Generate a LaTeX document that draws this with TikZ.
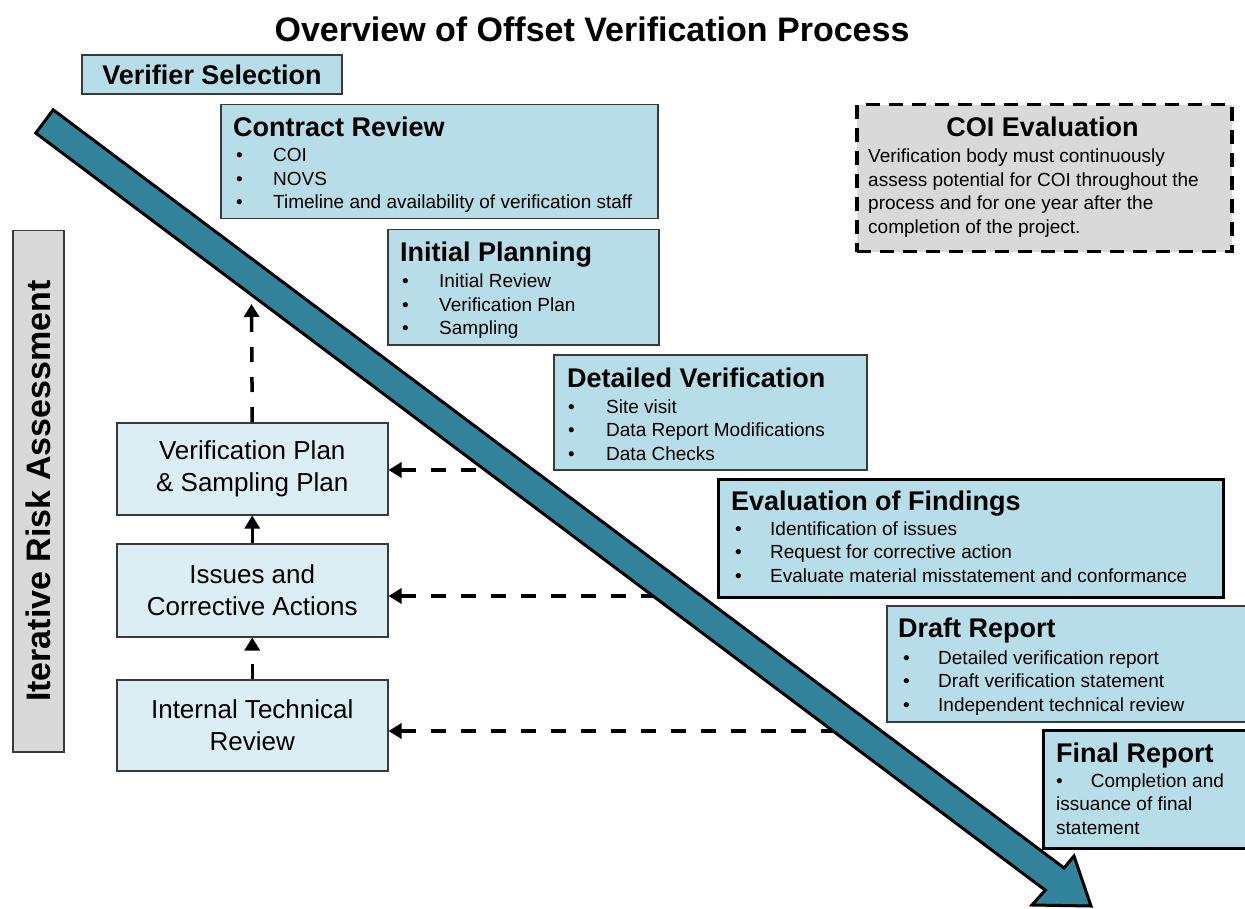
\documentclass[tikz,border=0pt]{standalone}
\usepackage{fontspec}
\setmainfont{Liberation Sans}
\usetikzlibrary{arrows.meta}
\definecolor{boxblue}{HTML}{B7DDE8}
\definecolor{lightblue}{HTML}{DBEEF4}
\definecolor{boxgray}{HTML}{D9D9D9}
\definecolor{arrowteal}{HTML}{31849B}
\definecolor{edgegray}{HTML}{3A3A3A}
\newcommand{\itemfont}{\fontsize{19}{23.5}\selectfont}
\newcommand{\headfont}{\fontsize{27}{32}\selectfont\bfseries}
\newcommand{\leftfont}{\fontsize{26}{32.5}\selectfont}
\begin{document}
\begin{tikzpicture}[x=1pt,y=-1pt,
  bluebox/.style={draw=edgegray, line width=1.5pt, fill=boxblue, inner sep=0pt, anchor=north west},
  strongbox/.style={bluebox, draw=black, line width=3pt},
  leftbox/.style={draw=edgegray, line width=1.5pt, fill=lightblue, inner sep=0pt, anchor=north west, font=\leftfont, align=center},
  graybox/.style={draw=edgegray, line width=1.5pt, fill=boxgray, inner sep=0pt, anchor=north west},
  coibox/.style={draw=black, line width=3.5pt, dash pattern=on 14pt off 9pt, fill=boxgray, inner sep=0pt, anchor=north west},
  head/.style={font=\headfont, inner sep=0pt, anchor=base west},
  items/.style={font=\itemfont, inner sep=0pt, anchor=base west},
  dashconn/.style={draw=black, line width=3.5pt, dash pattern=on 15pt off 15pt, -{Triangle[length=13pt,width=15pt]}},
  dashback/.style={draw=black, line width=3.5pt, dash pattern=on 15pt off 15pt, {Triangle[length=13pt,width=15pt]}-},
  bigarrow/.style={fill=arrowteal, draw=black, line width=3pt, line join=miter}
]
\clip (0,0) rectangle (1245,909);
\fill[white] (0,0) rectangle (1245,909);

% title
\node[font=\fontsize{34}{40}\selectfont\bfseries, inner sep=0pt, anchor=base] (title) at (592,42) {Overview of Offset Verification Process};

% verifier selection
\node[bluebox, minimum width=260pt, minimum height=39pt, font=\headfont, anchor=center] (vs) at (212,74.5) {Verifier Selection};

% contract review
\node[bluebox, minimum width=437pt, minimum height=114pt] (cr) at (220,104) {};
\node[head] (crh) at (233,137) {Contract Review};
\node[items] (crl) at (236,162) {\begin{tabular}[t]{@{}p{37pt}@{}l@{}}\textbullet & COI\\ \textbullet & NOVS\\ \textbullet & Timeline and availability of verification staff\end{tabular}};

% initial planning
\node[bluebox, minimum width=271pt, minimum height=115pt] (ip) at (387,229) {};
\node[head] (iph) at (400,262) {Initial Planning};
\node[items] (ipl) at (402,288) {\begin{tabular}[t]{@{}p{37pt}@{}l@{}}\textbullet & Initial Review\\ \textbullet & Verification Plan\\ \textbullet & Sampling\end{tabular}};

% detailed verification
\node[bluebox, minimum width=313pt, minimum height=115pt] (dv) at (553,354) {};
\node[head] (dvh) at (567,387) {Detailed Verification};
\node[items] (dvl) at (568,413) {\begin{tabular}[t]{@{}p{38pt}@{}l@{}}\textbullet & Site visit\\ \textbullet & Data Report Modifications\\ \textbullet & Data Checks\end{tabular}};

% evaluation of findings
\node[strongbox, minimum width=505pt, minimum height=118pt] (ef) at (717,478) {};
\node[head] (efh) at (731,510) {Evaluation of Findings};
\node[items] (efl) at (735,535) {\begin{tabular}[t]{@{}p{35pt}@{}l@{}}\textbullet & Identification of issues\\ \textbullet & Request for corrective action\\ \textbullet & Evaluate material misstatement and conformance\end{tabular}};

% draft report
\node[bluebox, minimum width=370pt, minimum height=116pt] (dr) at (886,605) {};
\node[head] (drh) at (898,637) {Draft Report};
\node[items] (drl) at (903,664) {\begin{tabular}[t]{@{}p{35pt}@{}l@{}}\textbullet & Detailed verification report\\ \textbullet & Draft verification statement\\ \textbullet & Independent technical review\end{tabular}};

% final report
\node[strongbox, line width=2.5pt, minimum width=215pt, minimum height=118pt] (fr) at (1042,729) {};
\node[head] (frh) at (1056,762) {Final Report};
\node[items] (frl) at (1056,787) {\begin{tabular}[t]{@{}l@{}}\textbullet\hspace{28pt}Completion and\\ issuance of final\\ statement\end{tabular}};

% COI evaluation
\node[coibox, minimum width=375pt, minimum height=147pt] (coi) at (855,103) {};
\node[font=\headfont, inner sep=0pt, anchor=base] (coih) at (1042.5,137) {COI Evaluation};
\node[items] (coil) at (868,163) {\begin{tabular}[t]{@{}l@{}}Verification body must continuously\\ assess potential for COI throughout the\\ process and for one year after the\\ completion of the project.\end{tabular}};

% iterative risk assessment
\node[graybox, minimum width=51pt, minimum height=521pt] (ira) at (12,230) {};
\node[font=\fontsize{34}{40}\selectfont\bfseries, inner sep=0pt, rotate=90] (irat) at (ira.center) {Iterative Risk Assessment};

% left boxes
\node[leftbox, minimum width=271pt, minimum height=92pt] (vp) at (116,422) {Verification Plan\\ \& Sampling Plan};
\node[leftbox, minimum width=271pt, minimum height=93pt] (ic) at (116,543) {Issues and\\ Corrective Actions};
\node[leftbox, minimum width=271pt, minimum height=91pt] (itr) at (116,679) {Internal Technical\\ Review};

% connectors
\coordinate (cup) at (251.5,304);
\coordinate (a1) at (495,470);
\coordinate (a2) at (665,596);
\coordinate (a3) at (845,731);
\draw[dashconn] (vp.north) -- (cup);
\draw[dashconn] (ic.north) -- (vp.south);
\draw[dashconn] (itr.north) -- (ic.south);
\draw[dashback] (a1 -| vp.east) -- (a1);
\draw[dashback] (a2 -| ic.east) -- (a2);
\draw[dashback] (a3 -| itr.east) -- (a3);

% big process arrow
\path[bigarrow] (35.8,133.1) -- (53.2,109.9) -- (1064,868) -- (1074,856) -- (1091,906) -- (1032,905) -- (1045.3,890.2) -- cycle;
\end{tikzpicture}
\end{document}
